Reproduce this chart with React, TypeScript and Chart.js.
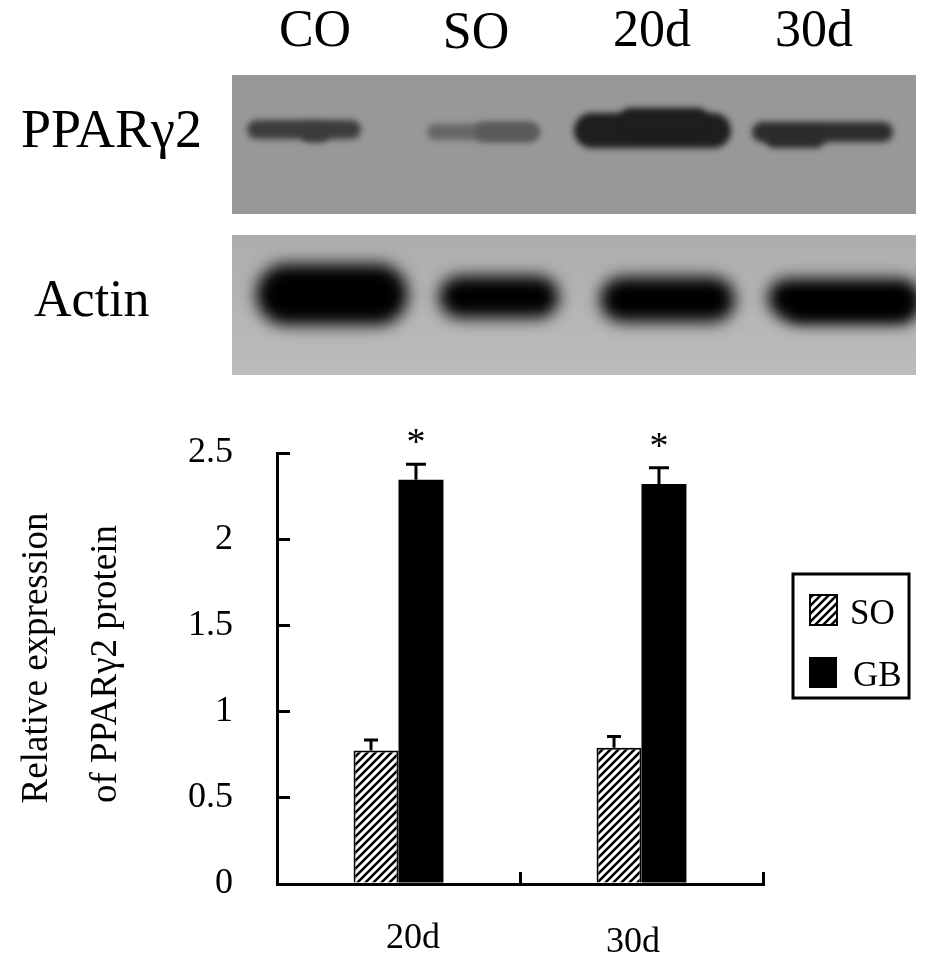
import React, { useEffect, useRef } from "react";
import { Chart, registerables } from "chart.js";

Chart.register(...registerables);

const categories = ["20d", "30d"];
const seriesNames = ["SO", "GB"];
const soValues = [0.775, 0.79];
const gbValues = [2.345, 2.32];
const soErrors = [0.06, 0.065];
const gbErrors = [0.09, 0.095];
const yTicks = [0, 0.5, 1, 1.5, 2, 2.5];
const laneLabels = ["CO", "SO", "20d", "30d"];
const significance = ["*", "*"];
const yTitleLines = ["Relative expression", "of PPARγ2 protein"];

const SERIF = '"Liberation Serif", "Times New Roman", serif';
const W = 929;
const H = 963;

function hatch(): CanvasPattern {
  const t = document.createElement("canvas");
  t.width = 8;
  t.height = 8;
  const c = t.getContext("2d")!;
  c.fillStyle = "#fff";
  c.fillRect(0, 0, 8, 8);
  c.strokeStyle = "#000";
  c.lineWidth = 2.6;
  c.beginPath();
  c.moveTo(-2, 10);
  c.lineTo(10, -2);
  c.moveTo(-10, 10);
  c.lineTo(2, -2);
  c.moveTo(6, 10);
  c.lineTo(18, -2);
  c.stroke();
  return document.createElement("canvas").getContext("2d")!.createPattern(t, "repeat")!;
}

type Band = [number, number, number, number, string];
// Decorative western-blot panels: [left, top, right, bottom, colour]
const topBands: Band[] = [
  [247, 120, 361, 139, "#3c3c3c"],
  [300, 124, 330, 142, "#3c3c3c"],
  [427, 124, 539, 140, "#666"],
  [475, 122, 539, 142, "#5a5a5a"],
  [574, 113, 731, 148, "#1e1e1e"],
  [620, 108, 708, 130, "#1e1e1e"],
  [752, 122, 893, 142, "#2c2c2c"],
  [765, 130, 825, 148, "#2c2c2c"],
];
const actinBands: Band[] = [
  [256, 264, 408, 325, "#000"],
  [439, 276, 559, 318, "#000"],
  [600, 277, 735, 322, "#000"],
  [768, 279, 920, 317, "#000"],
  [783, 293, 916, 323, "#000"],
];

const panelPlugin = {
  id: "panels",
  beforeDraw(chart: any) {
    const ctx: CanvasRenderingContext2D = chart.ctx;
    const panel = (y: number, h: number, top: string, bottom: string, bands: Band[], blur: number) => {
      ctx.save();
      ctx.beginPath();
      ctx.rect(232, y, 684, h);
      ctx.clip();
      const g = ctx.createLinearGradient(0, y, 0, y + h);
      g.addColorStop(0, top);
      g.addColorStop(1, bottom);
      ctx.fillStyle = g;
      ctx.fillRect(232, y, 684, h);
      ctx.filter = `blur(${blur}px)`;
      for (const [l, t, r, b, col] of bands) {
        ctx.fillStyle = col;
        ctx.beginPath();
        ctx.roundRect(l, t, r - l, b - t, Math.min((b - t) / 2, 40));
        ctx.fill();
      }
      ctx.restore();
    };
    panel(75, 139, "#989898", "#989898", topBands, 3);
    panel(235, 140, "#adadad", "#bcbcbc", actinBands, 8);

    ctx.save();
    ctx.fillStyle = "#000";
    ctx.textBaseline = "alphabetic";
    ctx.textAlign = "center";
    ctx.font = `52px ${SERIF}`;
    const laneX = [315, 476, 652, 814];
    const laneY = [46, 48, 46, 46];
    laneLabels.forEach((l, i) => ctx.fillText(l, laneX[i], laneY[i]));
    ctx.textAlign = "left";
    ctx.font = `54px ${SERIF}`;
    ctx.fillText("PPARγ2", 21, 147);
    ctx.font = `52px ${SERIF}`;
    ctx.fillText("Actin", 34, 316);
    ctx.restore();
  },
  afterDatasetsDraw(chart: any) {
    const ctx: CanvasRenderingContext2D = chart.ctx;
    const y = chart.scales.y;
    const drawErr = (ds: number, vals: number[], errs: number[], capHalf: number) => {
      chart.getDatasetMeta(ds).data.forEach((bar: any, i: number) => {
        const x = bar.x - 5;
        const top = y.getPixelForValue(vals[i] + errs[i]);
        const base = y.getPixelForValue(vals[i]);
        ctx.strokeStyle = "#000";
        ctx.lineWidth = 3;
        ctx.beginPath();
        ctx.moveTo(x, base);
        ctx.lineTo(x, top);
        ctx.moveTo(x - capHalf, top);
        ctx.lineTo(x + capHalf, top);
        ctx.stroke();
        if (ds === 1) {
          ctx.fillStyle = "#000";
          ctx.font = `38px ${SERIF}`;
          ctx.textAlign = "center";
          ctx.textBaseline = "alphabetic";
          ctx.fillText(significance[i], x, top - 10);
        }
      });
    };
    drawErr(0, soValues, soErrors, 7);
    drawErr(1, gbValues, gbErrors, 10);

    ctx.save();
    ctx.fillStyle = "#000";
    ctx.textBaseline = "alphabetic";
    ctx.textAlign = "center";
    ctx.font = `36px ${SERIF}`;
    const catX = [413, 633];
    const catY = [948, 952];
    categories.forEach((c, i) => ctx.fillText(c, catX[i], catY[i]));

    // y axis title, two rotated lines
    const titleX = [47, 116];
    const titleY = [658, 664];
    ctx.font = `37px ${SERIF}`;
    yTitleLines.forEach((t, i) => {
      ctx.save();
      ctx.translate(titleX[i], titleY[i]);
      ctx.rotate(-Math.PI / 2);
      ctx.fillText(t, 0, 0);
      ctx.restore();
    });

    // legend
    ctx.lineWidth = 3;
    ctx.strokeStyle = "#000";
    ctx.strokeRect(793, 574, 116, 124);
    ctx.lineWidth = 2;
    ctx.fillStyle = chart.data.datasets[0].backgroundColor;
    ctx.fillRect(810, 595, 27, 30);
    ctx.strokeRect(810, 595, 27, 30);
    ctx.fillStyle = "#000";
    ctx.fillRect(809, 657, 28, 31);
    ctx.font = `35px ${SERIF}`;
    ctx.textAlign = "left";
    ctx.fillText(seriesNames[0], 850, 624);
    ctx.fillText(seriesNames[1], 853, 686);
    ctx.restore();
  },
};

export default function App() {
  const ref = useRef<HTMLCanvasElement>(null);
  useEffect(() => {
    const chart = new Chart(ref.current!, {
      type: "bar",
      data: {
        labels: categories,
        datasets: [
          {
            label: seriesNames[0],
            data: soValues,
            backgroundColor: hatch() as any,
            borderColor: "#000",
            borderWidth: 2,
            categoryPercentage: 0.37,
            barPercentage: 1,
          },
          {
            label: seriesNames[1],
            data: gbValues,
            backgroundColor: "#000",
            borderColor: "#000",
            borderWidth: 0,
            categoryPercentage: 0.37,
            barPercentage: 1,
          },
        ],
      },
      options: {
        responsive: false,
        animation: false,
        devicePixelRatio: 1,
        layout: { padding: { left: 0, top: 453, right: W - 763, bottom: H - 884 } },
        plugins: { legend: { display: false }, tooltip: { enabled: false } },
        scales: {
          x: {
            type: "category",
            afterFit: (s: any) => {
              s.height = 0;
            },
            ticks: { display: false },
            grid: {
              offset: true,
              drawOnChartArea: false,
              drawTicks: true,
              tickLength: -12,
              lineWidth: 3,
              color: "#000",
            },
            border: { display: true, color: "#000", width: 3 },
          },
          y: {
            min: 0,
            max: 2.5,
            afterFit: (s: any) => {
              s.width = 277;
            },
            afterBuildTicks: (s: any) => {
              s.ticks = yTicks.map((value) => ({ value }));
            },
            ticks: {
              color: "#000",
              padding: 57,
              font: { family: SERIF, size: 36 },
              callback: (v: any) => String(v),
            },
            grid: {
              drawOnChartArea: false,
              drawTicks: true,
              tickLength: -13,
              lineWidth: 3,
              color: "#000",
            },
            border: { display: true, color: "#000", width: 3 },
          },
        },
      },
      plugins: [panelPlugin],
    } as any);
    return () => chart.destroy();
  }, []);
  return (
    <div style={{ position: "absolute", left: 0, top: 0, width: W, height: H, background: "#fff" }}>
      <canvas ref={ref} width={W} height={H} style={{ display: "block" }} />
    </div>
  );
}
